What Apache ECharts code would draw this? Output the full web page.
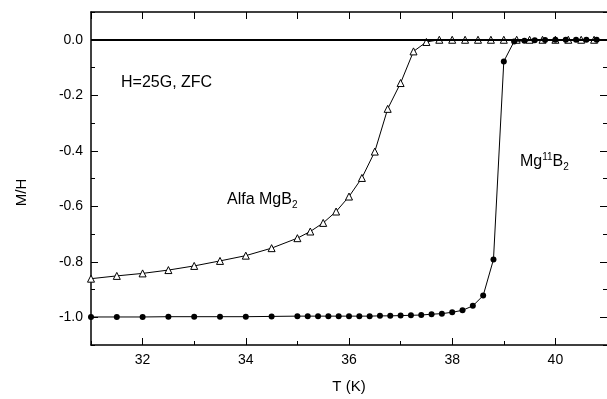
<!DOCTYPE html>
<html>
<head>
<meta charset="utf-8">
<script src="https://cdn.jsdelivr.net/npm/echarts@6/dist/echarts.min.js"></script>
<style>
  html, body {margin: 0; padding: 0; background: #fff;}
  #chart {width: 607px; height: 399px;}
</style>
</head>
<body>
<div id="chart"></div>
<script>
// Alfa MgB2 (open triangles)
const tAlfa = [31.0, 31.5, 32.0, 32.5, 33.0, 33.5, 34.0, 34.5, 35.0, 35.25, 35.5, 35.75, 36.0, 36.25, 36.5, 36.75,
    37.0, 37.25, 37.5, 37.75, 38.0, 38.25, 38.5, 38.75, 39.0, 39.25, 39.5, 39.75, 40.0, 40.25, 40.5, 40.75];
const mAlfa = [-0.861, -0.851, -0.842, -0.830, -0.815, -0.797, -0.778, -0.751, -0.715, -0.691, -0.660, -0.619, -0.565, -0.498, -0.403, -0.249,
    -0.156, -0.042, -0.008, 0, 0, 0, 0, 0, 0, 0, 0, 0, 0, 0, 0, 0];

// Mg11B2 (filled circles)
const tMg = [31.0, 31.5, 32.0, 32.5, 33.0, 33.5, 34.0, 34.5, 35.0, 35.2, 35.4, 35.6, 35.8, 36.0, 36.2, 36.4, 36.6, 36.8,
    37.0, 37.2, 37.4, 37.6, 37.8, 38.0, 38.2, 38.4, 38.6, 38.8, 39.0, 39.2, 39.4, 39.6, 39.8, 40.0, 40.2, 40.4, 40.6, 40.8];
const mMg = [-0.999, -0.999, -0.999, -0.998, -0.998, -0.998, -0.998, -0.997, -0.996, -0.996, -0.996, -0.996, -0.996, -0.996, -0.996, -0.996, -0.995, -0.995,
    -0.994, -0.993, -0.992, -0.989, -0.987, -0.982, -0.975, -0.959, -0.922, -0.792, -0.078, -0.006, -0.004, -0.002, -0.001, 0, 0, 0, 0, 0];

// axis ranges and tick values
const xMin = 31, xMax = 41;
const yMin = -1.1, yMax = 0.1;
const xMajorTicks = [32, 34, 36, 38, 40];
const xMinorTicks = [31, 33, 35, 37, 39, 41];
const yMajorTicks = [-1.0, -0.8, -0.6, -0.4, -0.2, 0.0];
const yMinorTicks = [-1.1, -0.9, -0.7, -0.5, -0.3, -0.1, 0.1];

const pairs = (xs, ys) => xs.map((x, i) => [x, ys[i]]);

const font = '"Liberation Sans", Arial, sans-serif';
const black = '#000';

const chart = echarts.init(document.getElementById('chart'));

// one axis = one set of ticks (major or minor) on one side
function yAx(position, ticks, len, withLine, withLabels) {
    return {
        type: 'value', position, min: yMin, max: yMax,
        axisLine: {show: withLine, onZero: false, lineStyle: {color: black, width: 1.5}},
        axisTick: {show: true, inside: true, length: len, customValues: ticks,
            lineStyle: {color: black, width: 1}},
        axisLabel: withLabels ? {
            fontFamily: font, fontSize: 14, color: black, margin: 8,
            customValues: ticks, formatter: v => v.toFixed(1)
        } : {show: false},
        splitLine: {show: false}
    };
}

function xAx(position, ticks, len, withLine, withLabels) {
    return {
        type: 'value', position, min: xMin, max: xMax,
        axisLine: {show: withLine, onZero: false, lineStyle: {color: black, width: 1.5}},
        axisTick: {show: true, inside: true, length: len, customValues: ticks,
            lineStyle: {color: black, width: 1}},
        axisLabel: withLabels ? {
            fontFamily: font, fontSize: 14, color: black, margin: 8,
            customValues: ticks, formatter: v => String(v)
        } : {show: false},
        splitLine: {show: false}
    };
}

const xBottom = xAx('bottom', xMajorTicks, 7, true, true);
xBottom.name = 'T (K)';
xBottom.nameLocation = 'middle';
xBottom.nameGap = 34;
xBottom.nameTextStyle = {fontFamily: font, fontSize: 15, color: black};

const yLeft = yAx('left', yMajorTicks, 7, true, true);
yLeft.name = 'M/H';
yLeft.nameLocation = 'middle';
yLeft.nameGap = 62;
yLeft.nameTextStyle = {fontFamily: font, fontSize: 15, color: black, padding: [0, 28, 0, 0]};

chart.setOption({
    animation: false,
    grid: {left: 91, width: 519, top: 12, height: 334},
    xAxis: [
        xBottom,
        xAx('bottom', xMinorTicks, 4, false, false),
        xAx('top', xMajorTicks.concat(xMinorTicks), 7, true, false)
    ],
    yAxis: [
        yLeft,
        yAx('left', yMinorTicks, 4, false, false),
        yAx('right', yMajorTicks, 7, false, false),
        yAx('right', yMinorTicks, 4, false, false)
    ],
    graphic: [
        {
            type: 'text', left: 121, top: 75,
            style: {text: 'H=25G, ZFC', font: '16px ' + font, fill: black}
        },
        {
            type: 'text', left: 227, top: 192,
            style: {
                text: '{a|Alfa MgB}{s|2}',
                rich: {
                    a: {fontFamily: font, fontSize: 16, fill: black},
                    s: {fontFamily: font, fontSize: 10, fill: black, padding: [10, 0, 0, 0]}
                }
            }
        },
        {
            type: 'text', left: 520, top: 152,
            style: {
                text: '{a|Mg}{p|11}{a|B}{s|2}',
                rich: {
                    a: {fontFamily: font, fontSize: 16, fill: black},
                    p: {fontFamily: font, fontSize: 10, fill: black, padding: [0, 0, 10, 0]},
                    s: {fontFamily: font, fontSize: 10, fill: black, padding: [10, 0, 0, 0]}
                }
            }
        }
    ],
    series: [
        {
            name: 'zero',
            type: 'line',
            data: [],
            markLine: {
                silent: true,
                symbol: 'none',
                label: {show: false},
                lineStyle: {color: black, width: 2, type: 'solid'},
                data: [{yAxis: 0}]
            }
        },
        {
            name: 'Alfa MgB2',
            type: 'line',
            data: pairs(tAlfa, mAlfa),
            symbol: 'triangle',
            symbolSize: 7,
            showAllSymbol: true,
            lineStyle: {color: black, width: 1},
            itemStyle: {color: '#fff', borderColor: black, borderWidth: 1},
            z: 3
        },
        {
            name: 'Mg11B2',
            type: 'line',
            data: pairs(tMg, mMg),
            symbol: 'circle',
            symbolSize: 6,
            showAllSymbol: true,
            lineStyle: {color: black, width: 1},
            itemStyle: {color: black, borderColor: black, borderWidth: 0},
            z: 4
        }
    ]
});
</script>
</body>
</html>
